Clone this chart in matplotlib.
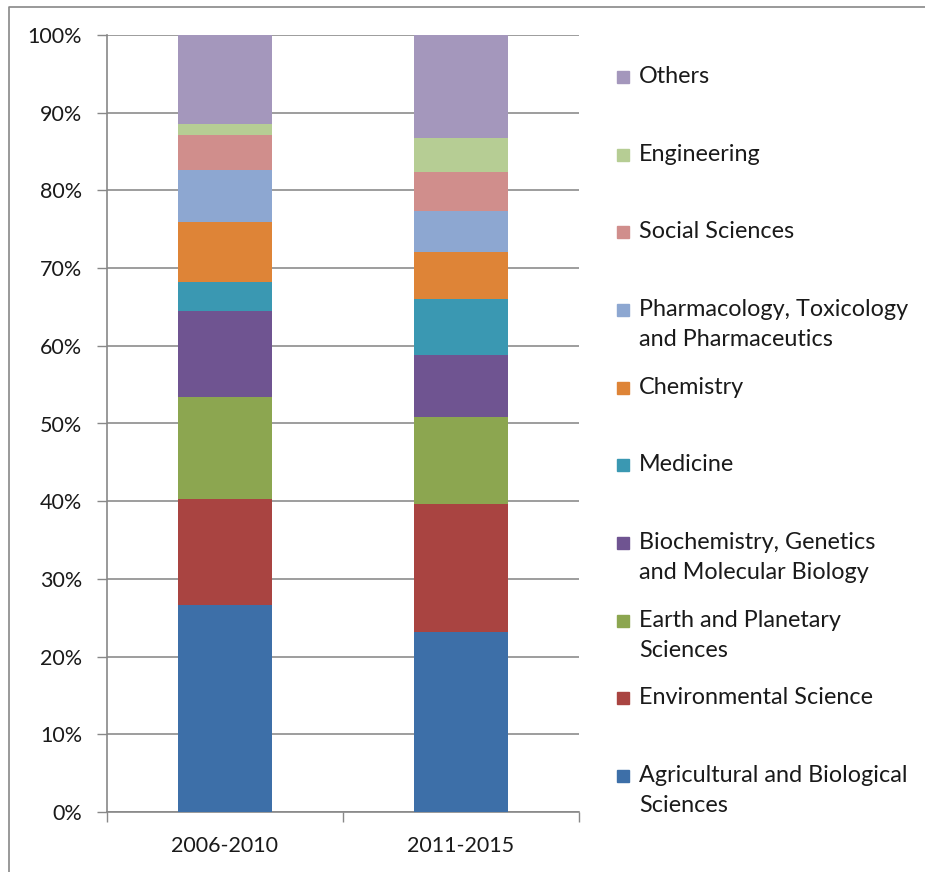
import numpy as np
import matplotlib
matplotlib.use('Agg')
import matplotlib.pyplot as plt
from matplotlib.patches import Rectangle
from matplotlib.lines import Line2D

plt.rcParams['font.family'] = ['Lato', 'DejaVu Sans']

### Data (share of publications, %), bottom to top
periods = ['2006-2010', '2011-2015']
subjects = ['Agricultural and Biological\nSciences',
            'Environmental Science',
            'Earth and Planetary\nSciences',
            'Biochemistry, Genetics\nand Molecular Biology',
            'Medicine',
            'Chemistry',
            'Pharmacology, Toxicology\nand Pharmaceutics',
            'Social Sciences',
            'Engineering',
            'Others']
share_2006_2010 = [26.6, 13.7, 13.1, 11.1, 3.7, 7.7, 6.7, 4.5, 1.4, 11.5]
share_2011_2015 = [23.2, 16.4, 11.2, 8.0, 7.2, 6.1, 5.3, 5.0, 4.3, 13.3]
colors = ['#3D6FA8', '#A94441', '#8CA650', '#6F5491', '#3A98B2',
          '#DE8437', '#8DA7D1', '#D08E8C', '#B6CD94', '#A497BC']

values = np.array([share_2006_2010, share_2011_2015]).T

fig = plt.figure(figsize=(9.25, 8.72), dpi=100)
ax = fig.add_axes([107/925, 1 - 812/872, (579 - 107)/925, (812 - 35)/872])

x = np.arange(len(periods))
bottom = np.zeros(len(periods))
for vals, col in zip(values, colors):
    ax.bar(x, vals, 0.4, bottom=bottom, color=col, zorder=3)
    bottom += vals

ax.set_xlim(-0.5, len(periods) - 0.5)
ax.set_ylim(0, 100)
ax.set_yticks(np.arange(0, 101, 10))
ax.set_yticklabels(['%d%%' % v for v in range(0, 101, 10)])
ax.set_xticks(x)
ax.set_xticklabels(periods)
ax.set_xticks(np.arange(-0.5, len(periods), 1), minor=True)
ax.tick_params(axis='x', which='major', length=0, pad=17, labelsize=15.5, colors='#1a1a1a')
ax.tick_params(axis='x', which='minor', length=7, width=1, color='#888888')
ax.tick_params(axis='y', length=7, width=1, color='#888888', pad=11, labelsize=15.5,
               labelcolor='#1a1a1a')
ax.yaxis.grid(True, color='#8c8c8c', linewidth=1.2, zorder=0)
for s in ['top', 'right']:
    ax.spines[s].set_visible(False)
for s in ['left', 'bottom']:
    ax.spines[s].set_color('#888888')
    ax.spines[s].set_linewidth(1.2)

### Legend, evenly spaced, top entry = last series
n = len(subjects)
top_y, bot_y = 77, 776
for i, (lab, col) in enumerate(zip(subjects[::-1], colors[::-1])):
    yc = top_y + i * (bot_y - top_y) / (n - 1)
    fy = 1 - yc / 872
    fig.patches.append(Rectangle((617/925, fy - 6/872), 12/925, 12/872,
                                 transform=fig.transFigure, color=col))
    fig.text(639/925, fy + 11/872, lab, fontsize=16.8, color='#1a1a1a',
             va='top', ha='left', linespacing=1.55)

### Outer frame (top and left edges)
fig.lines.append(Line2D([9/925, 9/925, 1], [0, 1 - 7/872, 1 - 7/872],
                        transform=fig.transFigure, color='#888888', linewidth=1.2))

plt.savefig('out.png', dpi=100)
